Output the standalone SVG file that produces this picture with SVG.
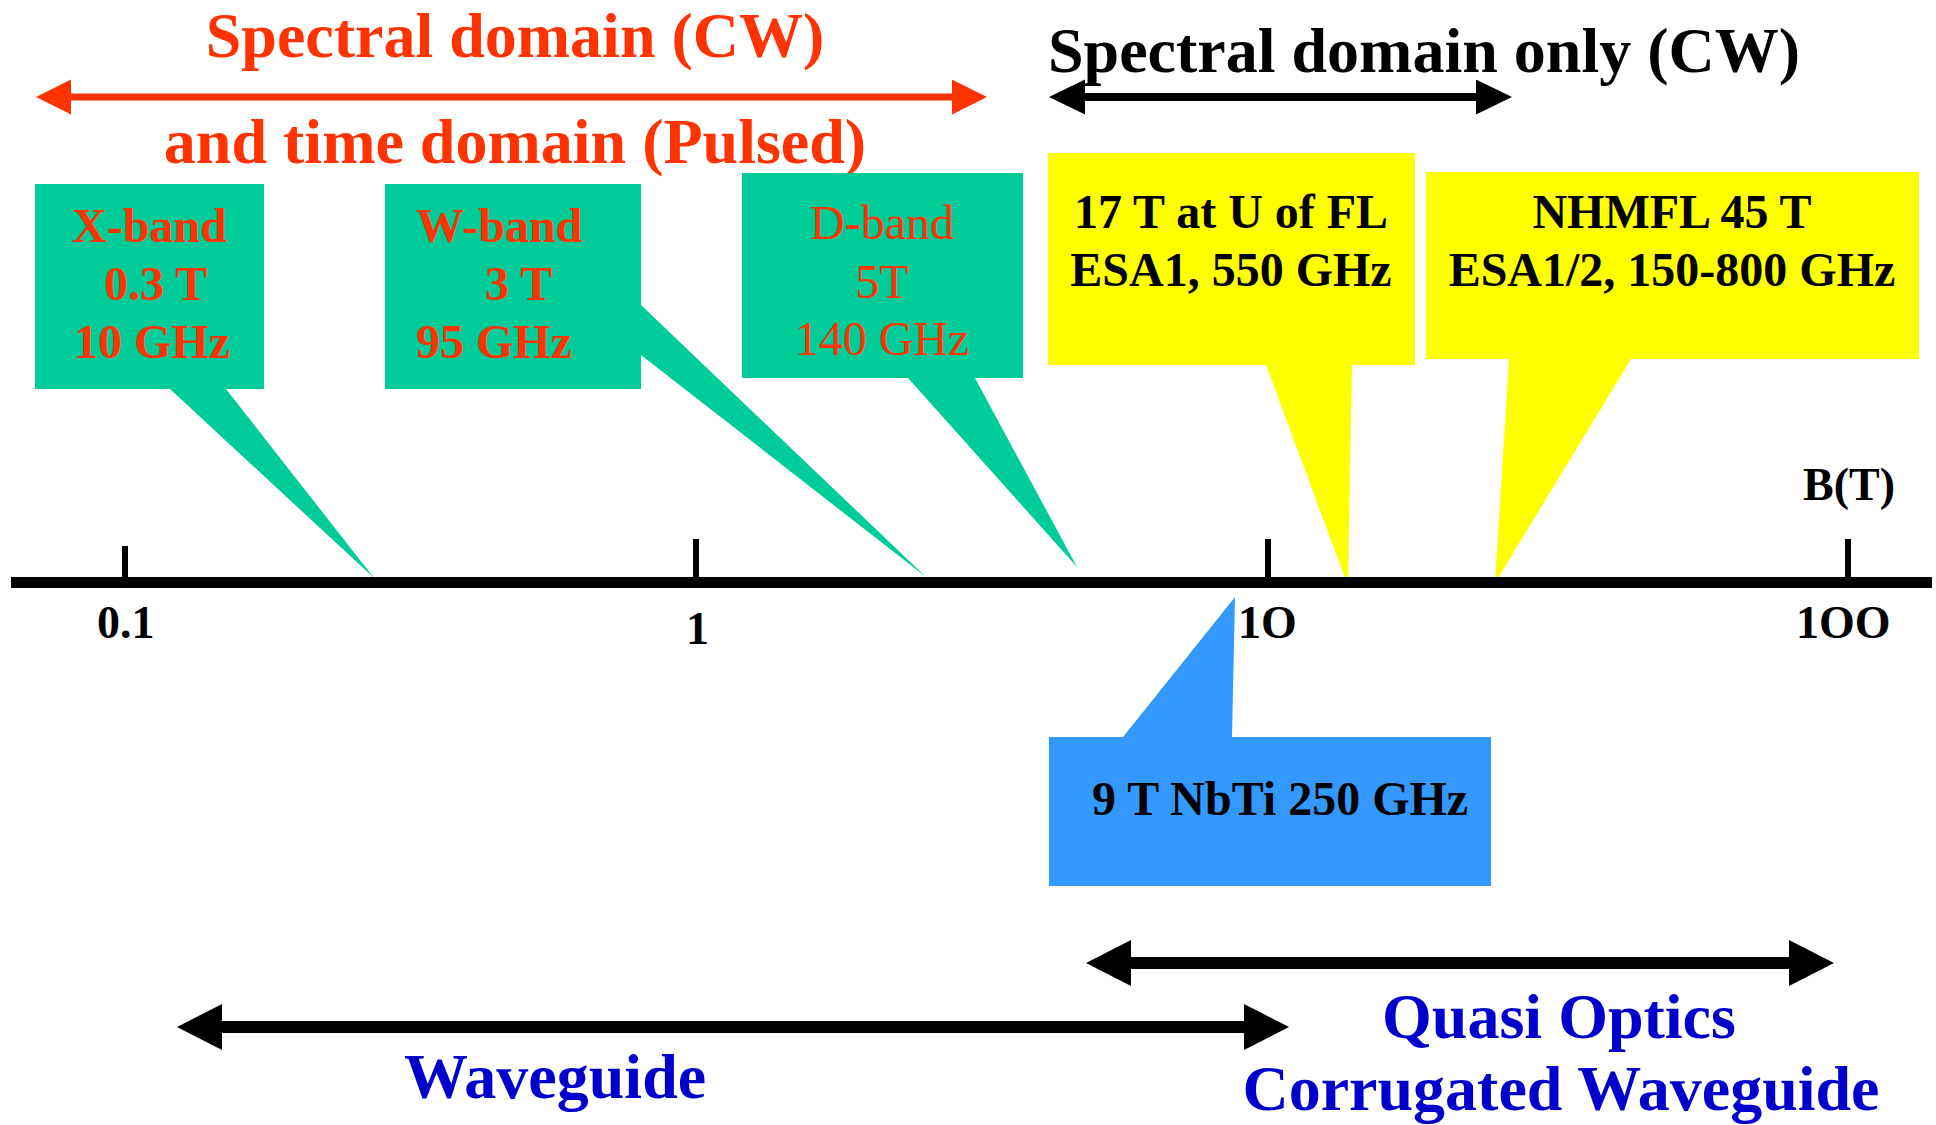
<svg xmlns="http://www.w3.org/2000/svg" width="1936" height="1125" viewBox="0 0 1936 1125">
<style>
  text { font-family: "Liberation Serif", "Times New Roman", serif; }
  .b { font-weight: bold; }
  .red { fill: #FF3300; }
  .blk { fill: #000000; }
  .blu { fill: #0000CC; }
  .green { fill: #00CC99; }
  .yellow { fill: #FFFF00; }
  .sky { fill: #3399FF; }
  .title { font-size: 64px; font-weight: bold; }
  .lbl { font-size: 48px; }
  .tick { font-size: 46px; font-weight: bold; }
</style>
<defs>
  <marker id="hRedS" markerUnits="userSpaceOnUse" markerWidth="36" markerHeight="36" refX="1" refY="17.5" orient="auto-start-reverse">
    <path d="M0,0 L35,17.5 L0,35 Z" fill="#FF3300"/>
  </marker>
  <marker id="hBlkS" markerUnits="userSpaceOnUse" markerWidth="37" markerHeight="36" refX="1" refY="17.5" orient="auto-start-reverse">
    <path d="M0,0 L36,17.5 L0,35 Z" fill="#000000"/>
  </marker>
  <marker id="hBlkL" markerUnits="userSpaceOnUse" markerWidth="46" markerHeight="46" refX="1" refY="23" orient="auto-start-reverse">
    <path d="M0,0 L45,23 L0,46 Z" fill="#000000"/>
  </marker>
</defs>
<rect width="1936" height="1125" fill="#FFFFFF"/>

<g id="title-pulsed">
  <text class="title red" x="515" y="57" text-anchor="middle">Spectral domain (CW)</text>
  <text class="title red" x="515" y="163" text-anchor="middle">and time domain (Pulsed)</text>
</g>
<g id="title-cw">
  <text class="title blk" x="1048" y="72">Spectral domain only (CW)</text>
</g>

<g id="node-xband">
  <path class="green" d="M35,184 H264 V389 H226 L374,578 L170,389 H35 Z"/>
  <text class="lbl b red" x="72" y="242">X-band</text>
  <text class="lbl b red" x="104" y="300">0.3 T</text>
  <text class="lbl b red" x="74" y="358">10 GHz</text>
</g>
<g id="node-wband">
  <path class="green" d="M385,184 H641 V305 L926,577 L641,355 V389 H385 Z"/>
  <text class="lbl b red" x="416" y="242">W-band</text>
  <text class="lbl b red" x="485" y="300">3 T</text>
  <text class="lbl b red" x="416" y="358">95 GHz</text>
</g>
<g id="node-dband">
  <path class="green" d="M742,173 H1023 V378 H975 L1077,567 L908,378 H742 Z"/>
  <text class="lbl red" x="882" y="239" text-anchor="middle">D-band</text>
  <text class="lbl red" x="882" y="298" text-anchor="middle">5T</text>
  <text class="lbl red" x="882" y="355" text-anchor="middle">140 GHz</text>
</g>
<g id="node-ufl">
  <path class="yellow" d="M1048,153 H1415 V365 H1352 L1348,586 L1266,365 H1048 Z"/>
  <text class="lbl b blk" x="1231" y="228" text-anchor="middle">17 T at U of FL</text>
  <text class="lbl b blk" x="1231" y="286" text-anchor="middle">ESA1, 550 GHz</text>
</g>
<g id="node-nhmfl">
  <path class="yellow" d="M1426,172 H1919 V359 H1631 L1495,583 L1509,359 H1426 Z"/>
  <text class="lbl b blk" x="1672" y="228" text-anchor="middle">NHMFL 45 T</text>
  <text class="lbl b blk" x="1672" y="286" text-anchor="middle">ESA1/2, 150-800 GHz</text>
</g>
<g id="node-nbti">
  <path class="sky" d="M1049,737 H1123 L1235,597 L1232,737 H1491 V886 H1049 Z"/>
  <text class="lbl b blk" x="1092" y="815">9 T NbTi 250 GHz</text>
</g>

<g id="axis">
  <rect x="11" y="577" width="1921" height="11" fill="#000"/>
  <rect x="122" y="546" width="6" height="40" fill="#000"/>
  <rect x="693" y="539" width="6" height="40" fill="#000"/>
  <rect x="1265" y="539" width="6" height="40" fill="#000"/>
  <rect x="1845" y="539" width="6" height="40" fill="#000"/>
  <text class="tick blk" x="97" y="638">0.1</text>
  <text class="tick blk" x="686" y="644">1</text>
  <text class="tick blk" x="1238" y="638">1O</text>
  <text class="tick blk" x="1796" y="638">1OO</text>
  <text class="tick blk" x="1803" y="500">B(T)</text>
</g>

<g id="connectors">
  <line x1="70" y1="97" x2="953" y2="97" stroke="#FF3300" stroke-width="7" marker-start="url(#hRedS)" marker-end="url(#hRedS)"/>
  <line x1="1084" y1="97" x2="1477" y2="97" stroke="#000" stroke-width="8" marker-start="url(#hBlkS)" marker-end="url(#hBlkS)"/>
  <line x1="1130" y1="963" x2="1790" y2="963" stroke="#000" stroke-width="12" marker-start="url(#hBlkL)" marker-end="url(#hBlkL)"/>
  <line x1="221" y1="1027" x2="1245" y2="1027" stroke="#000" stroke-width="12" marker-start="url(#hBlkL)" marker-end="url(#hBlkL)"/>
</g>

<g id="label-quasi">
  <text class="title blu" x="1559" y="1038" text-anchor="middle">Quasi Optics</text>
  <text class="title blu" x="1561" y="1110" text-anchor="middle">Corrugated Waveguide</text>
</g>
<g id="label-waveguide">
  <text class="title blu" x="555" y="1098" text-anchor="middle">Waveguide</text>
</g>
</svg>
